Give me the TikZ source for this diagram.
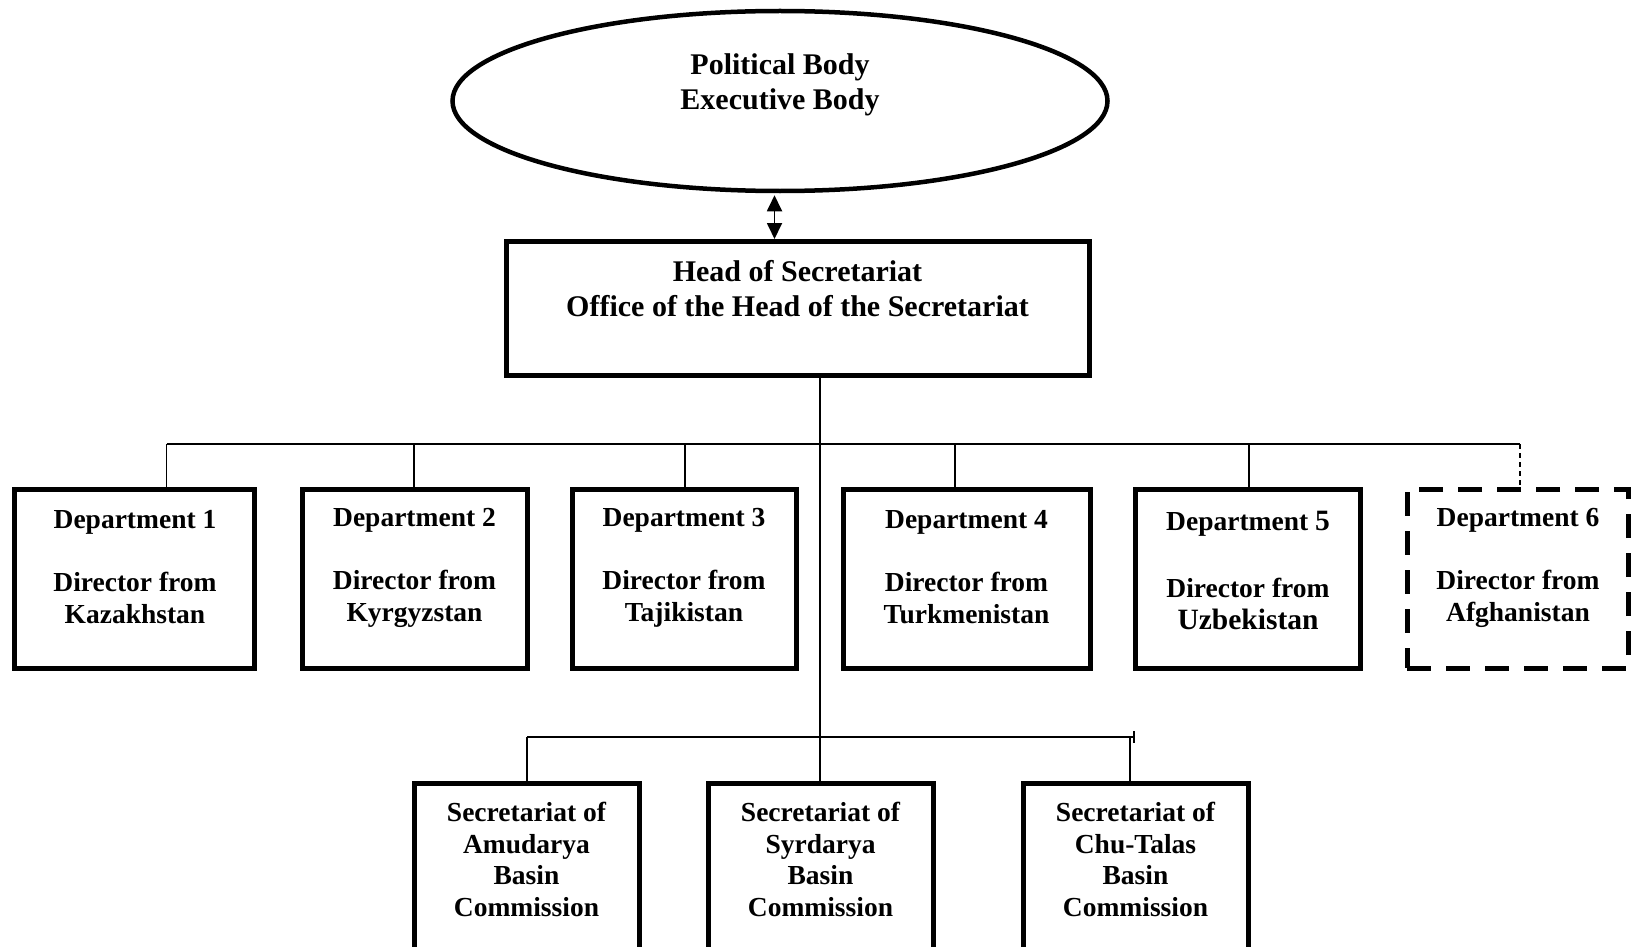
\documentclass[tikz,border=0pt]{standalone}
\usepackage{fontspec}
\setmainfont{Liberation Serif}
\usetikzlibrary{arrows.meta,shapes.geometric}
\begin{document}
\begin{tikzpicture}[x=1pt,y=-1pt,
  box/.style={draw, line width=5pt, rectangle, inner sep=0pt},
  dashbox/.style={box, dash pattern=on 24pt off 15pt},
  bigtxt/.style={align=center, inner sep=0pt, font=\fontsize{30}{35.5}\selectfont\bfseries},
  txt/.style={align=center, inner sep=0pt, font=\fontsize{27.5}{31.5}\selectfont\bfseries},
  conn/.style={line width=1.8pt},
  dconn/.style={conn, dash pattern=on 5pt off 4pt},
  biarrow/.style={{Triangle[width=15pt,length=16pt]}-{Triangle[width=15pt,length=16pt]}}
]
\useasboundingbox (0,0) rectangle (1632,947);
\clip (0,0) rectangle (1632,947);

% top ellipse
\node[draw, ellipse, line width=4.5pt, minimum width=655pt, minimum height=180pt, inner sep=0pt] (pol) at (780,101) {};
\node[bigtxt] (polt) at (780,85) {Political Body\\Executive Body};

% head box
\node[box, minimum width=583pt, minimum height=134pt] (head) at (797.5,308.5) {};
\node[bigtxt, font=\fontsize{30}{35}\selectfont\bfseries] (headt) at (797.5,289) {Head of Secretariat\\Office of the Head of the Secretariat};

\draw[conn, biarrow] ([xshift=-5.5pt,yshift=-2pt]pol.south) -- ([xshift=-23pt]head.north);

% departments
\node[box, minimum width=240pt, minimum height=179pt] (d1) at (134.5,578.5) {};
\node[box, minimum width=225pt, minimum height=179pt] (d2) at (414.5,578.5) {};
\node[box, minimum width=224pt, minimum height=179pt] (d3) at (684,578.5) {};
\node[box, minimum width=247pt, minimum height=179pt] (d4) at (966.5,578.5) {};
\node[box, minimum width=225pt, minimum height=179pt] (d5) at (1247.5,578.5) {};
\node[dashbox, minimum width=221pt, minimum height=179pt] (d6) at (1517.5,578.5) {};

\node[txt] (d1t) at (135,567) {Department 1\\[31.5pt]Director from\\Kazakhstan};
\node[txt] (d2t) at (414.5,568) {Department 2\\[31.5pt]Director from\\Kyrgyzstan};
\node[txt] (d3t) at (684,568) {Department 3\\[31.5pt]Director from\\Tajikistan};
\node[txt] (d4t) at (966.5,567) {Department 4\\[31.5pt]Director from\\Turkmenistan};
\node[txt] (d5t) at (1248,570) {Department {\fontsize{29.5}{31.5}\selectfont 5}\\[36pt]Director from\\{\fontsize{29.5}{31.5}\selectfont Uzbekistan}};
\node[txt] (d6t) at (1518,568) {Department 6\\[31.5pt]Director from\\Afghanistan};

% bottom boxes
\node[box, minimum width=225pt, minimum height=200pt, anchor=north] (b1) at (526.5,781) {};
\node[box, minimum width=225pt, minimum height=200pt, anchor=north] (b2) at (820.5,781) {};
\node[box, minimum width=225pt, minimum height=200pt, anchor=north] (b3) at (1135.5,781) {};
\node[txt] (b1t) at (526.5,859.5) {Secretariat of\\Amudarya\\Basin\\Commission};
\node[txt] (b2t) at (820.5,859.5) {Secretariat of\\Syrdarya\\Basin\\Commission};
\node[txt] (b3t) at (1135.5,859.5) {Secretariat of\\Chu-Talas\\Basin\\Commission};

% connector points
\coordinate (main) at (820,444);
\coordinate (p1) at (166.5,444);
\coordinate (p2) at (414,444);
\coordinate (p3) at (685,444);
\coordinate (p4) at (955,444);
\coordinate (p5) at (1249,444);
\coordinate (p6) at (1520,444);
\coordinate (q1) at (527,737);
\coordinate (q3) at (1130,737);
\coordinate (qR) at (1134,737);
\coordinate (tickT) at (1134,731);
\coordinate (tickB) at (1134,743);

\draw[conn] (head.south -| main) -- (b2.north -| main);
\draw[conn] (p1) -- (p6);
\draw[conn] (p1) -- (p1 |- d1.north);
\draw[conn] (p2) -- (p2 |- d2.north);
\draw[conn] (p3) -- (p3 |- d3.north);
\draw[conn] (p4) -- (p4 |- d4.north);
\draw[conn] (p5) -- (p5 |- d5.north);
\draw[dconn] (p6) -- (p6 |- d6.north);

\draw[conn] (q1) -- (qR);
\draw[conn] (tickT) -- (tickB);
\draw[conn] (q1) -- (q1 |- b1.north);
\draw[conn] (q3) -- (q3 |- b3.north);
\end{tikzpicture}
\end{document}
